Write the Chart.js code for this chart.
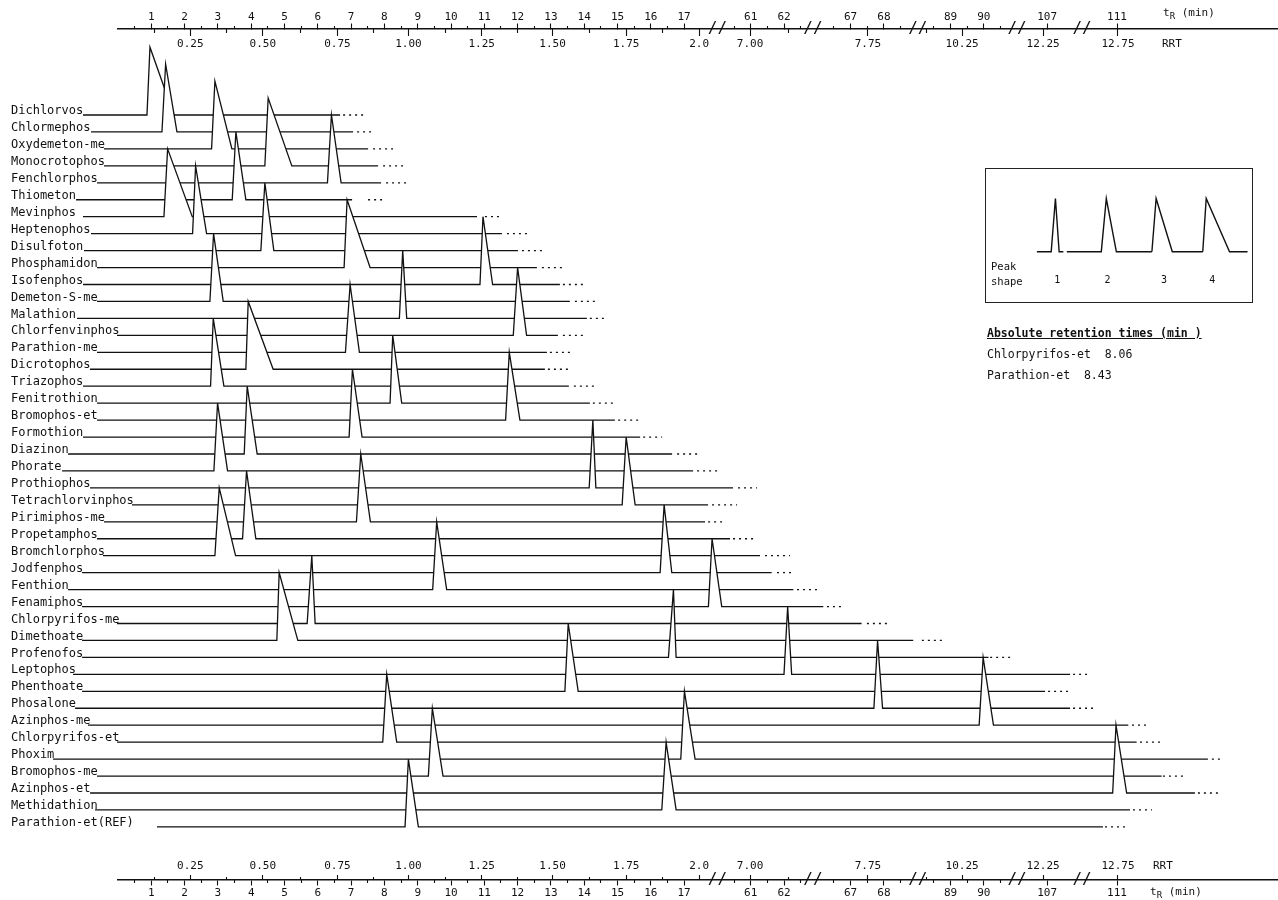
<!DOCTYPE html>
<html>
<head>
<meta charset="utf-8">
<title>Retention of organophosphorus pesticides</title>
<script src="https://cdn.jsdelivr.net/npm/chart.js@4.4.1/dist/chart.umd.min.js"></script>
<style>
  body { margin: 0; background: #fff; }
  #page { position: relative; width: 1278px; height: 900px; font-family: 'DejaVu Sans Mono', monospace; color: #111; }
  #page > canvas { position: absolute; left: 0; top: 0; }
  .note { position: absolute; white-space: pre; font-size: 11px; line-height: 14px; }
  .note sub { font-size: 9px; vertical-align: -3px; line-height: 0; }
  #inset { position: absolute; left: 985px; top: 168px; width: 268px; height: 135px; border: 1.5px solid #222; box-sizing: border-box; }
  #inset canvas { position: absolute; left: 0; top: 0; }
</style>
</head>
<body>
<div id="page">
  <canvas id="chart" width="1278" height="900"></canvas>
  <div class="note" style="left:1163px;top:6px">t<sub>R</sub> (min)</div>
  <div class="note" style="left:1162px;top:37px">RRT</div>
  <div class="note" style="left:1153px;top:859px">RRT</div>
  <div class="note" style="left:1150px;top:885px">t<sub>R</sub> (min)</div>
  <div id="inset">
    <canvas id="insetChart" width="265" height="132"></canvas>
    <div class="note" style="left:5px;top:90px;font-size:10.5px;line-height:15px">Peak
shape</div>
  </div>
  <div class="note" style="left:987px;top:326px;font-size:11.5px;font-weight:bold;text-decoration:underline">Absolute retention times (min )</div>
  <div class="note" style="left:987px;top:347px;font-size:11.5px">Chlorpyrifos-et  8.06</div>
  <div class="note" style="left:987px;top:368px;font-size:11.5px">Parathion-et  8.43</div>
</div>

<script>
// Compounds, top row first
const compounds = ['Dichlorvos', 'Chlormephos', 'Oxydemeton-me', 'Monocrotophos', 'Fenchlorphos',
    'Thiometon', 'Mevinphos', 'Heptenophos', 'Disulfoton', 'Phosphamidon', 'Isofenphos',
    'Demeton-S-me', 'Malathion', 'Chlorfenvinphos', 'Parathion-me', 'Dicrotophos', 'Triazophos',
    'Fenitrothion', 'Bromophos-et', 'Formothion', 'Diazinon', 'Phorate', 'Prothiophos',
    'Tetrachlorvinphos', 'Pirimiphos-me', 'Propetamphos', 'Bromchlorphos', 'Jodfenphos', 'Fenthion',
    'Fenamiphos', 'Chlorpyrifos-me', 'Dimethoate', 'Profenofos', 'Leptophos', 'Phenthoate',
    'Phosalone', 'Azinphos-me', 'Chlorpyrifos-et', 'Phoxim', 'Bromophos-me', 'Azinphos-et',
    'Methidathion', 'Parathion-et(REF)'];

// Positions on the tR axis (one value per compound)
const traceStart = [-1.05, -0.81, -0.42, -0.42, -0.63, -1.26, -1.05, -0.81, -1.02, -0.63, -1.05,
    -0.63, -1.23, -0.03, -0.63, -0.84, -1.05, -0.63, -0.63, -1.05, -1.50, -1.68, -0.84, 0.42, -0.42,
    -0.63, -0.45, -1.08, -1.50, -1.08, -0.03, -1.08, -1.08, -1.35, -1.08, -1.29, -0.90, -0.03, -1.95,
    -0.63, -0.84, -0.69, 1.17];
const peakStart = [0.87, 1.32, 2.81, 4.41, 6.29, 3.43, 1.38, 2.24, 4.29, 6.79, 10.87, 2.76, 8.45,
    11.87, 6.83, 3.84, 2.78, 8.17, 11.64, 6.94, 3.79, 2.88, 14.15, 15.14, 7.16, 3.74, 2.91, 16.28,
    9.45, 17.73, 5.68, 4.77, 16.53, 62.00, 13.42, 67.70, 89.86, 7.95, 16.90, 9.32, 110.87, 16.33, 8.62];
const peakTop = [0.96, 1.43, 2.91, 4.51, 6.41, 3.54, 1.49, 2.33, 4.41, 6.88, 10.96, 2.87, 8.55,
    12.00, 6.97, 3.91, 2.86, 8.25, 11.75, 7.04, 3.88, 2.99, 14.26, 15.26, 7.29, 3.86, 3.04, 16.40,
    9.57, 17.84, 5.82, 4.84, 16.68, 62.11, 13.52, 67.81, 89.98, 8.07, 17.01, 9.44, 110.97, 16.46, 8.72];
const peakEnd = [1.68, 1.77, 3.42, 5.22, 6.70, 3.84, 2.23, 2.66, 4.68, 7.57, 11.25, 3.16, 8.67,
    12.27, 7.25, 4.66, 3.18, 8.52, 12.07, 7.33, 4.18, 3.29, 14.35, 15.53, 7.58, 4.14, 3.53, 16.63,
    9.87, 60.13, 5.92, 5.40, 16.76, 62.23, 13.82, 67.96, 90.29, 8.37, 17.33, 9.76, 111.29, 16.76, 9.02];
const traceEnd = [6.67, 7.06, 7.51, 7.81, 7.90, 7.03, 10.78, 11.53, 12.01, 12.58, 13.27, 13.57,
    14.08, 13.21, 12.88, 12.82, 13.54, 14.17, 14.92, 15.68, 16.64, 17.27, 60.47, 17.72, 17.63, 60.38,
    61.28, 61.63, 62.28, 66.18, 67.33, 68.88, 90.14, 107.69, 106.94, 107.69, 111.34, 111.59, 113.73,
    112.34, 113.34, 111.39, 110.58];
const dotsStart = [6.76, 7.18, 7.66, 7.96, 8.05, 7.51, 11.02, 11.68, 12.13, 12.73, 13.36, 13.72,
    14.17, 13.36, 12.97, 12.91, 13.69, 14.26, 15.02, 15.77, 16.79, 17.39, 60.62, 17.84, 17.72, 60.47,
    61.43, 61.79, 62.39, 66.29, 67.49, 88.14, 90.19, 107.78, 107.03, 107.78, 111.45, 111.69, 113.85,
    112.38, 113.43, 111.48, 110.64];
const dotsEnd = [7.42, 7.72, 8.26, 8.62, 8.77, 7.93, 11.47, 12.31, 12.73, 13.33, 13.96, 14.41,
    14.71, 13.96, 13.63, 13.51, 14.32, 14.98, 15.62, 16.34, 17.48, 17.99, 61.19, 60.59, 60.14, 61.13,
    62.18, 62.33, 66.02, 66.83, 68.09, 88.74, 90.88, 110.13, 107.63, 110.28, 111.99, 112.35, 114.15,
    113.04, 114.15, 112.05, 111.30];

// Axis ticks
const tRTicks = [1, 2, 3, 4, 5, 6, 7, 8, 9, 10, 11, 12, 13, 14, 15, 16, 17, 61, 62, 67, 68, 89, 90, 107, 111];
const tRMinor = [0.5, 1.5, 2.5, 3.5, 4.5, 5.5, 6.5, 7.5, 8.5, 9.5, 10.5, 11.5, 12.5, 13.5, 14.5,
    15.5, 16.5, 60.5, 61.5, 62.5, 66.5, 67.5, 68.5, 88.5, 89.5, 90.5];
const rrtLabels = ['0.25', '0.50', '0.75', '1.00', '1.25', '1.50', '1.75', '2.0', '7.00', '7.75',
    '10.25', '12.25', '12.75'];
const rrtTickAt = [2.17, 4.35, 6.59, 8.72, 10.92, 13.05, 15.26, 17.45, 60.98, 67.52, 89.35, 106.88, 111.03];
const rrtMinorAt = [1.09, 3.26, 5.47, 7.66, 9.82, 11.99, 14.16, 16.36, 62.13, 88.29];

// Peak shape inset
const shapeNames = ['1', '2', '3', '4'];
const shapeX = [[19.2, 24.6, 26.2, 27.6, 29.2], [30.5, 43.5, 45.4, 49.2, 62.6],
    [62.6, 64.2, 70.3, 81.8], [81.8, 83.1, 91.9, 98.7]];
const shapeY = [[0, 0, 1, 0, 0], [0, 0, 1, 0, 0], [0, 1, 0, 0], [0, 1, 0, 0]];
const shapeLabelAt = [26.9, 45.9, 67.2, 85.4];

// The tR axis is broken: each piece is slid left by "shift"
const axisPieces = [
    { upTo: 18.0, shift: 0 },
    { upTo: 62.87, shift: 42 },
    { upTo: 69.02, shift: 45 },
    { upTo: 91.0, shift: 64 },
    { upTo: 108.05, shift: 79.1 },
    { upTo: Infinity, shift: 81 }
];
function axisPos(t) {
    const piece = axisPieces.find(p => t <= p.upTo);
    return t - piece.shift;
}
const breakAt = axisPieces.slice(0, -1).map(p => p.upTo);

const ink = '#111111';
const mono = 'DejaVu Sans Mono';
const peakRows = 4;          // every peak is drawn four rows tall
const rowPx = 16.95;
const firstRowPx = 115;
const rowMin = -firstRowPx / rowPx;
const rowMax = rowMin + 900 / rowPx;
const leftPx = 118;
const xMax = (1278 - leftPx) / 33.3;
const topLine = 29;
const bottomLine = 880;

// label padding so that the label centre lands at "center"
function padFor(center, line, tickLen, size) {
    return center - line - tickLen - size * 0.6;
}

function hAxis(line, tickLen, values, labels, extra) {
    extra = extra || {};
    const size = extra.size || 11;
    return {
        type: 'linear',
        axis: 'x',
        position: { py: line },
        min: 0,
        max: xMax,
        bounds: 'data',
        grid: {
            display: extra.noGrid ? false : true,
            drawOnChartArea: false,
            drawTicks: true,
            tickLength: tickLen,
            color: ink,
            tickColor: ink,
            tickWidth: 1.1
        },
        border: { display: !!extra.border, color: ink, width: 1.5 },
        ticks: {
            display: !!labels,
            autoSkip: false,
            maxRotation: 0,
            minRotation: 0,
            padding: labels ? padFor(extra.center, line, extra.noGrid ? 0 : tickLen, size) : 0,
            font: { family: mono, size: size },
            color: ink,
            callback: (v, i) => labels ? labels[i] : ''
        },
        afterBuildTicks: scale => {
            scale.ticks = values.map(v => ({ value: axisPos(v) }));
        }
    };
}

// One trace per compound: baseline, one peak, then a dotted tail.
// Lower rows are drawn last so their white-filled peaks hide the rows behind.
const datasets = compounds.map((name, i) => ({
    label: name,
    data: [
        { x: axisPos(traceStart[i]), y: i },
        { x: axisPos(peakStart[i]), y: i },
        { x: axisPos(peakTop[i]), y: i - peakRows },
        { x: axisPos(peakEnd[i]), y: i },
        { x: axisPos(traceEnd[i]), y: i },
        { x: axisPos(traceEnd[i]), y: null },
        { x: axisPos(dotsStart[i]), y: i },
        { x: axisPos(dotsEnd[i]), y: i }
    ],
    borderColor: ink,
    borderWidth: 1.3,
    backgroundColor: '#ffffff',
    fill: { value: i },
    pointRadius: 0,
    pointHitRadius: 0,
    tension: 0,
    clip: false,
    segment: {
        borderDash: ctx => ctx.p0DataIndex >= 6 ? [2, 4] : undefined
    }
})).reverse();

const breakLabels = breakAt.map(() => '//');

new Chart(document.getElementById('chart'), {
    type: 'line',
    data: { datasets: datasets },
    options: {
        responsive: false,
        animation: false,
        events: [],
        layout: { padding: { left: leftPx, right: 0, top: 0, bottom: 0 } },
        plugins: { legend: { display: false }, tooltip: { enabled: false } },
        scales: {
            // top axis: tR above the line, RRT below
            x: hAxis(topLine, -6, tRTicks, tRTicks.map(String), { center: 17, border: true }),
            xTopMinor: hAxis(topLine, -3, tRMinor, null),
            xTopRrt: hAxis(topLine, 7, rrtTickAt, rrtLabels, { center: 44 }),
            xTopRrtMinor: hAxis(topLine, 4, rrtMinorAt, null),
            xTopBreak: hAxis(topLine, 0, breakAt, breakLabels, { center: topLine, noGrid: true, size: 16 }),
            // bottom axis: RRT above the line, tR below
            xBotRrt: hAxis(bottomLine, -5, rrtTickAt, rrtLabels, { center: 866 }),
            xBotRrtMinor: hAxis(bottomLine, -3, rrtMinorAt, null),
            xBotTr: hAxis(bottomLine, 5, tRTicks, tRTicks.map(String), { center: 893, border: true }),
            xBotTrMinor: hAxis(bottomLine, 3, tRMinor, null),
            xBotBreak: hAxis(bottomLine, 0, breakAt, breakLabels, { center: bottomLine, noGrid: true, size: 16 }),
            y: {
                type: 'linear',
                position: 'left',
                reverse: true,
                min: rowMin,
                max: rowMax,
                grid: { display: false },
                border: { display: false },
                ticks: {
                    mirror: true,
                    padding: 11 - leftPx,
                    labelOffset: -4,
                    autoSkip: false,
                    font: { family: mono, size: 12 },
                    color: ink,
                    callback: (v, i) => compounds[i]
                },
                afterBuildTicks: scale => {
                    scale.ticks = compounds.map((c, i) => ({ value: i }));
                },
                afterFit: scale => { scale.width = 0; }
            },
            // plain pixel scale, only used to place the axes
            py: { type: 'linear', axis: 'y', position: 'right', display: false, reverse: true, min: 0, max: 900 }
        }
    }
});

// Peak shape inset
new Chart(document.getElementById('insetChart'), {
    type: 'line',
    data: {
        datasets: shapeX.map((xs, k) => ({
            label: 'shape ' + shapeNames[k],
            data: xs.map((x, j) => ({ x: x, y: shapeY[k][j] })),
            borderColor: ink,
            borderWidth: 1.4,
            pointRadius: 0,
            tension: 0,
            fill: false,
            clip: false
        }))
    },
    options: {
        responsive: false,
        animation: false,
        events: [],
        layout: { padding: 0 },
        plugins: { legend: { display: false }, tooltip: { enabled: false } },
        scales: {
            x: {
                type: 'linear',
                position: { y: -0.39 },
                min: 0,
                max: 100,
                bounds: 'data',
                grid: { display: false },
                border: { display: false },
                ticks: {
                    autoSkip: false,
                    maxRotation: 0,
                    padding: -6,
                    font: { family: mono, size: 10 },
                    color: ink,
                    callback: (v, i) => shapeNames[i]
                },
                afterBuildTicks: scale => {
                    scale.ticks = shapeLabelAt.map(v => ({ value: v }));
                }
            },
            y: { type: 'linear', display: false, min: -0.923, max: 1.5535 }
        }
    }
});
</script>
</body>
</html>
